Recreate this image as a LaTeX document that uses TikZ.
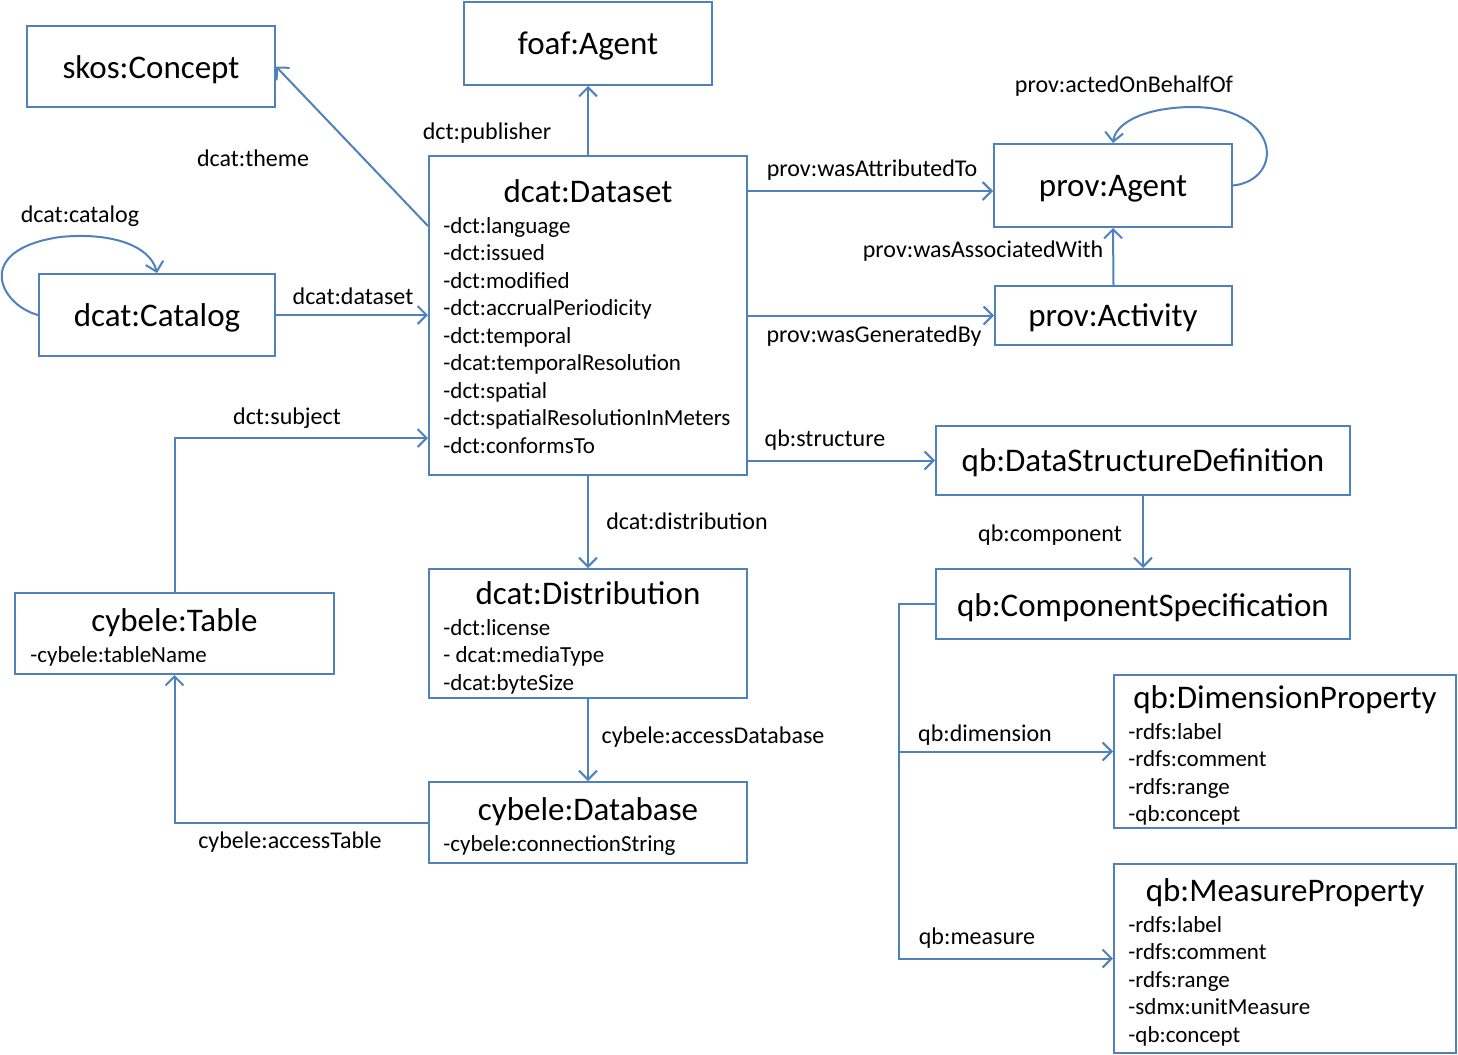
\documentclass[tikz,border=0pt]{standalone}
\usepackage{fontspec}
\setmainfont{Carlito}
\usetikzlibrary{arrows.meta}
\definecolor{lineblue}{HTML}{4F81BD}
\tikzset{
  box/.style={draw=lineblue, line width=1pt, rectangle, inner sep=0pt},
  ttl/.style={anchor=base, inner sep=0pt, font=\fontsize{16.5}{19}\selectfont},
  attr/.style={anchor=base west, inner sep=0pt, font=\fontsize{11.5}{13}\selectfont},
  lbl/.style={anchor=base, inner sep=0pt, font=\fontsize{12}{14}\selectfont},
  arr/.style={draw=lineblue, line width=1pt, -{Straight Barb[length=4.5pt,width=9pt,line width=1pt]}},
}
\begin{document}
\begin{tikzpicture}[x=0.5pt,y=-0.5pt]
\useasboundingbox (0,0) rectangle (1458,1055);
% boxes
\node[box, minimum width=124pt, minimum height=40.5pt] (skos) at (151,66.5) {};
\node[box, minimum width=124pt, minimum height=41.5pt] (foaf) at (588,43.5) {};
\node[box, minimum width=159pt, minimum height=159.5pt] (dataset) at (588,315.5) {};
\node[box, minimum width=119pt, minimum height=41.5pt] (pagent) at (1113,185.5) {};
\node[box, minimum width=118.5pt, minimum height=29.5pt] (pact) at (1113.5,315.5) {};
\node[box, minimum width=118pt, minimum height=41pt] (catalog) at (157,315) {};
\node[box, minimum width=207pt, minimum height=34.5pt] (dsd) at (1143,460.5) {};
\node[box, minimum width=207pt, minimum height=35pt] (comp) at (1143,604) {};
\node[box, minimum width=159.5pt, minimum height=40.5pt] (table) at (174.5,633.5) {};
\node[box, minimum width=159pt, minimum height=64.5pt] (dist) at (588,633.5) {};
\node[box, minimum width=159pt, minimum height=40.5pt] (db) at (588,822.5) {};
\node[box, minimum width=171pt, minimum height=76.5pt] (dim) at (1285,751.5) {};
\node[box, minimum width=171pt, minimum height=94.5pt] (meas) at (1285,958.5) {};
% titles
\node[ttl] (tskos) at (151,78) {skos:Concept};
\node[ttl] (tfoaf) at (588,54) {foaf:Agent};
\node[ttl] (tdataset) at (588,202) {dcat:Dataset};
\node[ttl] (tpagent) at (1113,196) {prov:Agent};
\node[ttl] (tpact) at (1113,326) {prov:Activity};
\node[ttl] (tcatalog) at (157,326) {dcat:Catalog};
\node[ttl] (tdsd) at (1143,471) {qb:DataStructureDefinition};
\node[ttl] (tcomp) at (1143,616) {qb:ComponentSpecification};
\node[ttl] (ttable) at (174.5,631) {cybele:Table};
\node[ttl] (tdist) at (588,604) {dcat:Distribution};
\node[ttl] (tdb) at (588,820) {cybele:Database};
\node[ttl] (tdim) at (1285,708) {qb:DimensionProperty};
\node[ttl] (tmeas) at (1285,901) {qb:MeasureProperty};
% attributes
\foreach \t [count=\i] in {-dct:language,-dct:issued,-dct:modified,-dct:accrualPeriodicity,-dct:temporal,-dcat:temporalResolution,-dct:spatial,-dct:spatialResolutionInMeters,-dct:conformsTo}
  \node[attr] (ads\i) at (443,{233+27.5*(\i-1)}) {\t};
\node[attr] (atab1) at (30,662) {-cybele:tableName};
\foreach \t [count=\i] in {-dct:license,- dcat:mediaType,-dcat:byteSize}
  \node[attr] (adist\i) at (443,{635+27.5*(\i-1)}) {\t};
\node[attr] (adb1) at (443,851) {-cybele:connectionString};
\foreach \t [count=\i] in {-rdfs:label,-rdfs:comment,-rdfs:range,-qb:concept}
  \node[attr] (adim\i) at (1128,{739+27.5*(\i-1)}) {\t};
\foreach \t [count=\i] in {-rdfs:label,-rdfs:comment,-rdfs:range,-sdmx:unitMeasure,-qb:concept}
  \node[attr] (ameas\i) at (1128,{932+27.5*(\i-1)}) {\t};
% connectors
\draw[arr] (dataset.west |- 0,226) -- (skos.east);
\draw[arr] (dataset.north) -- (foaf.south);
\draw[arr] (dataset.east |- 0,191) -- (pagent.west |- 0,191);
\draw[arr] (dataset.east) -- (pact.west);
\draw[arr] (pact.north) -- (pagent.south);
\draw[arr] (pagent.east) .. controls (1285,180) and (1282,106) .. (1190,107) .. controls (1140,108) and (1115,125) .. (pagent.north);
\draw[arr] (catalog.east) -- (dataset.west |- catalog.east);
\draw[arr] (catalog.west) .. controls (0,305) and (-28,250) .. (60,237) .. controls (110,232) and (150,245) .. (catalog.north);
\draw[arr] (table.north) |- (dataset.west |- 0,438);
\draw[arr] (dataset.south) -- (dist.north);
\draw[arr] (dist.south) -- (db.north);
\draw[arr] (db.west) -| (table.south);
\draw[arr] (dataset.east |- dsd.west) -- (dsd.west);
\draw[arr] (dsd.south) -- (comp.south |- comp.north);
\coordinate (cturn) at (899,604);
\coordinate (cbr) at (899,751.5);
\draw[arr] (comp.west) -- (cturn) |- (meas.west);
\draw[arr] (cbr) -- (dim.west);
% labels
\node[lbl] (lt) at (253,166) {dcat:theme};
\node[lbl] (lp) at (487,139) {dct:publisher};
\node[lbl] (la) at (872,176) {prov:wasAttributedTo};
\node[lbl] (lg) at (874,342) {prov:wasGeneratedBy};
\node[lbl] (lw) at (983,257) {prov:wasAssociatedWith};
\node[lbl] (lb) at (1124,92) {prov:actedOnBehalfOf};
\node[lbl] (ld) at (353,304) {dcat:dataset};
\node[lbl] (lc) at (80,222) {dcat:catalog};
\node[lbl] (ls) at (287,424) {dct:subject};
\node[lbl] (ldist) at (687,529) {dcat:distribution};
\node[lbl] (lad) at (713,743) {cybele:accessDatabase};
\node[lbl] (lat) at (290,848) {cybele:accessTable};
\node[lbl] (lst) at (825,446) {qb:structure};
\node[lbl] (lcomp) at (1050,541) {qb:component};
\node[lbl] (ldim) at (985,741) {qb:dimension};
\node[lbl] (lmeas) at (977,944) {qb:measure};
\end{tikzpicture}
\end{document}
